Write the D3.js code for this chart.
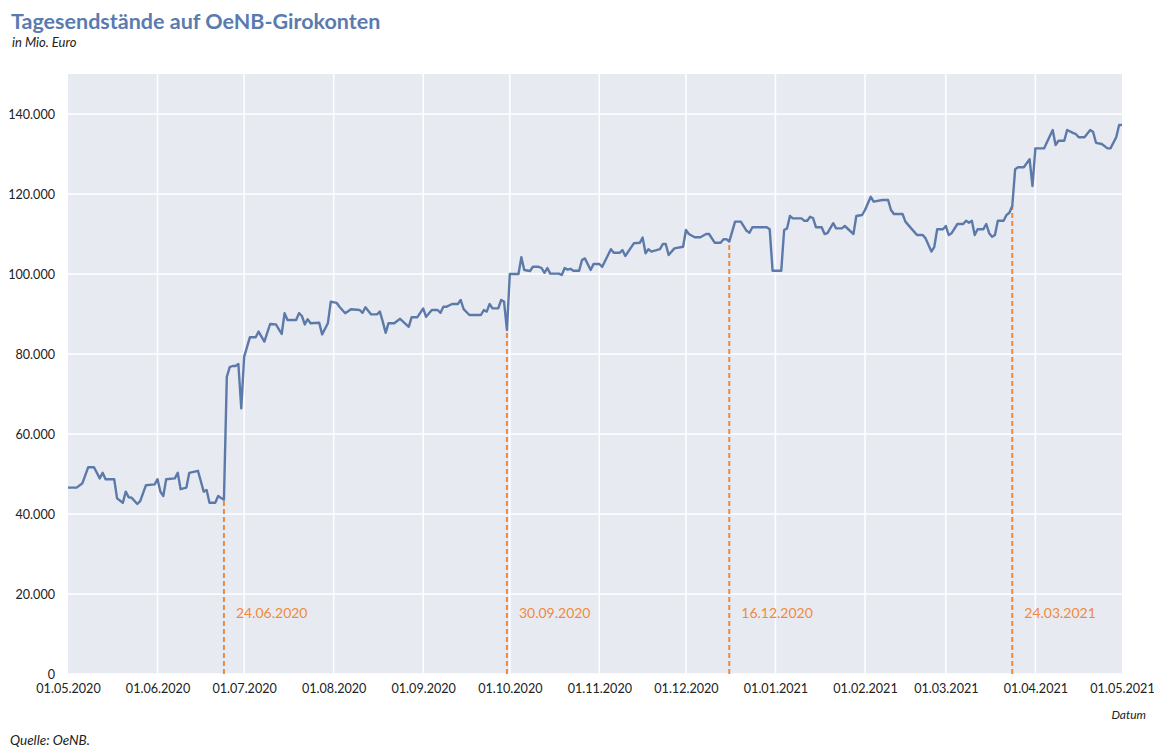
<!DOCTYPE html>
<html>
<head>
<meta charset="utf-8">
<script src="https://cdn.jsdelivr.net/npm/d3@7"></script>
<style>
  body { margin: 0; background: #fff; }
  text { font-family: Lato, "Open Sans", sans-serif; }
</style>
</head>
<body>
<svg id="chart"></svg>
<script>
// Tagesendstände (in Mio. Euro)
const dates = [
  "01.05.2020","04.05.2020","06.05.2020","08.05.2020","10.05.2020","12.05.2020","13.05.2020","14.05.2020","17.05.2020","18.05.2020",
  "20.05.2020","21.05.2020","22.05.2020","23.05.2020","25.05.2020","26.05.2020","28.05.2020","31.05.2020",
  "01.06.2020","02.06.2020","03.06.2020","04.06.2020","07.06.2020","08.06.2020","09.06.2020","11.06.2020","12.06.2020","15.06.2020",
  "17.06.2020","18.06.2020","19.06.2020","21.06.2020","22.06.2020","23.06.2020","24.06.2020","25.06.2020","26.06.2020","27.06.2020",
  "28.06.2020","29.06.2020","30.06.2020",
  "01.07.2020","03.07.2020","05.07.2020","06.07.2020","08.07.2020","10.07.2020","12.07.2020","14.07.2020","15.07.2020","16.07.2020",
  "19.07.2020","20.07.2020","21.07.2020","22.07.2020","23.07.2020","24.07.2020","27.07.2020","28.07.2020","30.07.2020","31.07.2020",
  "02.08.2020","03.08.2020","05.08.2020","07.08.2020","10.08.2020","11.08.2020","12.08.2020","14.08.2020","16.08.2020","17.08.2020",
  "18.08.2020","19.08.2020","20.08.2020","22.08.2020","24.08.2020","27.08.2020","28.08.2020","30.08.2020",
  "01.09.2020","02.09.2020","04.09.2020","06.09.2020","07.09.2020","08.09.2020","09.09.2020","11.09.2020","13.09.2020","14.09.2020",
  "15.09.2020","17.09.2020","21.09.2020","22.09.2020","23.09.2020","24.09.2020","25.09.2020","27.09.2020","28.09.2020","29.09.2020",
  "30.09.2020",
  "01.10.2020","04.10.2020","05.10.2020","06.10.2020","08.10.2020","09.10.2020","11.10.2020","12.10.2020","13.10.2020","14.10.2020",
  "15.10.2020","18.10.2020","19.10.2020","20.10.2020","21.10.2020","22.10.2020","23.10.2020","25.10.2020","26.10.2020","27.10.2020",
  "29.10.2020","30.10.2020",
  "01.11.2020","02.11.2020","05.11.2020","06.11.2020","08.11.2020","09.11.2020","10.11.2020","13.11.2020","15.11.2020","16.11.2020",
  "17.11.2020","18.11.2020","19.11.2020","22.11.2020","23.11.2020","24.11.2020","25.11.2020","27.11.2020","30.11.2020",
  "01.12.2020","02.12.2020","04.12.2020","06.12.2020","08.12.2020","09.12.2020","11.12.2020","13.12.2020","14.12.2020","15.12.2020",
  "16.12.2020","18.12.2020","20.12.2020","22.12.2020","23.12.2020","24.12.2020","29.12.2020","30.12.2020","31.12.2020",
  "03.01.2021","04.01.2021","05.01.2021","06.01.2021","07.01.2021","10.01.2021","11.01.2021","12.01.2021","13.01.2021","14.01.2021",
  "15.01.2021","17.01.2021","18.01.2021","19.01.2021","21.01.2021","22.01.2021","24.01.2021","25.01.2021","28.01.2021","29.01.2021",
  "31.01.2021",
  "01.02.2021","03.02.2021","04.02.2021","07.02.2021","09.02.2021","10.02.2021","11.02.2021","14.02.2021","15.02.2021","17.02.2021",
  "18.02.2021","19.02.2021","21.02.2021","22.02.2021","24.02.2021","25.02.2021","26.02.2021","28.02.2021",
  "01.03.2021","02.03.2021","03.03.2021","05.03.2021","07.03.2021","08.03.2021","09.03.2021","10.03.2021","11.03.2021","12.03.2021",
  "14.03.2021","15.03.2021","16.03.2021","17.03.2021","18.03.2021","19.03.2021","21.03.2021","22.03.2021","23.03.2021","24.03.2021",
  "25.03.2021","26.03.2021","28.03.2021","30.03.2021","31.03.2021",
  "01.04.2021","04.04.2021","07.04.2021","08.04.2021","09.04.2021","11.04.2021","12.04.2021","14.04.2021","15.04.2021","16.04.2021",
  "18.04.2021","20.04.2021","21.04.2021","22.04.2021","24.04.2021","26.04.2021","27.04.2021","29.04.2021","30.04.2021","01.05.2021"
];

const balances = [
  46600, 46600, 47700, 51700, 51700, 48900, 50300, 48700, 48700, 43900,
  42800, 45600, 44200, 44100, 42500, 43200, 47200, 47400,
  48700, 45600, 44500, 48700, 48900, 50300, 46200, 46600, 50300, 50800,
  45600, 46000, 42800, 42800, 44500, 44000, 43600, 74300, 76700, 77000,
  77000, 77500, 66400,
  79300, 84200, 84200, 85600, 83100, 87500, 87400, 85000, 90200, 88500,
  88500, 90200, 89500, 87400, 88700, 87700, 87800, 84900, 87700, 93100,
  92800, 91800, 90200, 91200, 91000, 90300, 91700, 89900, 89900, 90600,
  88100, 85300, 87700, 87700, 88800, 86800, 89200, 89200,
  91400, 89300, 91000, 91000, 90300, 91800, 91800, 92500, 92500, 93500,
  91200, 89750, 89750, 91000, 90600, 92500, 91400, 91400, 93500, 93100,
  86000,
  100000, 100000, 104200, 101000, 100750, 101800, 101800, 101500, 100300, 101500,
  100100, 100100, 99750, 101500, 101100, 101300, 100800, 100800, 103500, 103900,
  101000, 102500,
  102500, 101800, 106200, 105300, 105300, 106000, 104500, 107700, 107800, 109100,
  105200, 106200, 105600, 106200, 107500, 107500, 104750, 106400, 106800,
  111000, 110000, 109200, 109200, 110000, 110000, 107800, 107800, 108700, 108700,
  108100, 113100, 113100, 110800, 110300, 111700, 111700, 111200, 100800,
  100800, 111000, 111400, 114500, 113900, 113900, 113300, 113300, 114300, 114000,
  111700, 111700, 110000, 110200, 112700, 111400, 111400, 112000, 110000, 114500,
  114750,
  116000, 119300, 118100, 118500, 118500, 116000, 115000, 115000, 113100, 111400,
  110600, 109750, 109750, 108900, 105600, 106800, 111200, 111200,
  112000, 109750, 110200, 112500, 112500, 113300, 112800, 113300, 109750, 111200,
  111200, 112500, 110200, 109300, 109750, 113300, 113300, 114750, 115300, 117000,
  126200, 126700, 126700, 128700, 122000,
  131400, 131400, 136000, 132250, 133300, 133300, 136000, 135300, 135000, 134200,
  134200, 136000, 135500, 132800, 132500, 131400, 131400, 134200, 137250, 137250
];

// dates marked with dashed lines
const markerDates = ["24.06.2020", "30.09.2020", "16.12.2020", "24.03.2021"];

const yTicks = [0, 20000, 40000, 60000, 80000, 100000, 120000, 140000];

const W = 1154, H = 749;
const margin = { top: 74, right: 32, bottom: 75, left: 68 };
const innerW = W - margin.left - margin.right;
const innerH = H - margin.top - margin.bottom;

const parse = d3.timeParse("%d.%m.%Y");
const fmtDate = d3.timeFormat("%d.%m.%Y");
const de = d3.formatLocale({ decimal: ",", thousands: ".", grouping: [3], currency: ["", " €"] });
const fmtNum = de.format(",d");

const data = dates.map((d, i) => ({ date: parse(d), value: balances[i] }));

const svg = d3.select("#chart").attr("width", W).attr("height", H);

// title
svg.append("text")
  .attr("x", 11).attr("y", 29)
  .attr("font-size", 21.5).attr("font-weight", "bold")
  .attr("fill", "#5a7bb0")
  .text("Tagesendstände auf OeNB-Girokonten");

svg.append("text")
  .attr("x", 12).attr("y", 47)
  .attr("font-size", 13).attr("font-style", "italic")
  .attr("fill", "#222")
  .text("in Mio. Euro");

const g = svg.append("g").attr("transform", `translate(${margin.left},${margin.top})`);

const x = d3.scaleTime()
  .domain([parse("01.05.2020"), parse("01.05.2021")])
  .range([0, innerW]);

const y = d3.scaleLinear()
  .domain([0, 150000])
  .range([innerH, 0]);

g.append("rect")
  .attr("width", innerW).attr("height", innerH)
  .attr("fill", "#e8eaf2");

const months = x.ticks(d3.timeMonth.every(1));

// gridlines
g.append("g").selectAll("line")
  .data(yTicks)
  .join("line")
  .attr("x1", 0).attr("x2", innerW)
  .attr("y1", d => y(d)).attr("y2", d => y(d))
  .attr("stroke", "#fff").attr("stroke-width", 1.5);

g.append("g").selectAll("line")
  .data(months.slice(1, -1))
  .join("line")
  .attr("x1", d => x(d)).attr("x2", d => x(d))
  .attr("y1", 0).attr("y2", innerH)
  .attr("stroke", "#fff").attr("stroke-width", 1.5);

// axes
const xAxis = g.append("g")
  .attr("transform", `translate(0,${innerH})`)
  .call(d3.axisBottom(x).tickValues(months).tickFormat(fmtDate).tickSize(0).tickPadding(10));

const yAxis = g.append("g")
  .call(d3.axisLeft(y).tickValues(yTicks).tickFormat(fmtNum).tickSize(0).tickPadding(13));

[xAxis, yAxis].forEach(a => {
  a.select(".domain").remove();
  a.selectAll("text")
    .attr("font-family", "Lato, sans-serif")
    .attr("font-size", 12.6)
    .attr("fill", "#222");
});

// dashed marker lines
const bisect = d3.bisector(d => d.date).left;
const markers = markerDates.map(s => {
  const dt = parse(s);
  const p = data[bisect(data, dt)];
  return { date: dt, label: s, value: p.value };
});

g.append("g").selectAll("line")
  .data(markers)
  .join("line")
  .attr("x1", d => x(d.date)).attr("x2", d => x(d.date))
  .attr("y1", innerH).attr("y2", d => y(d.value))
  .attr("stroke", "#ee8a3c")
  .attr("stroke-width", 2)
  .attr("stroke-dasharray", "5,3");

g.append("g").selectAll("text")
  .data(markers)
  .join("text")
  .attr("x", d => x(d.date) + 12)
  .attr("y", y(14000))
  .attr("font-size", 14)
  .attr("fill", "#ee8a3c")
  .text(d => d.label);

// the series
const line = d3.line()
  .x(d => x(d.date))
  .y(d => y(d.value));

g.append("path")
  .datum(data)
  .attr("fill", "none")
  .attr("stroke", "#5b7aa9")
  .attr("stroke-width", 2.4)
  .attr("stroke-linejoin", "round")
  .attr("d", line);

// footer texts
svg.append("text")
  .attr("x", 1146).attr("y", 719)
  .attr("text-anchor", "end")
  .attr("font-size", 12).attr("font-style", "italic")
  .attr("fill", "#222")
  .text("Datum");

svg.append("text")
  .attr("x", 10).attr("y", 745)
  .attr("font-size", 13.5).attr("font-style", "italic")
  .attr("fill", "#222")
  .text("Quelle: OeNB.");
</script>
</body>
</html>
